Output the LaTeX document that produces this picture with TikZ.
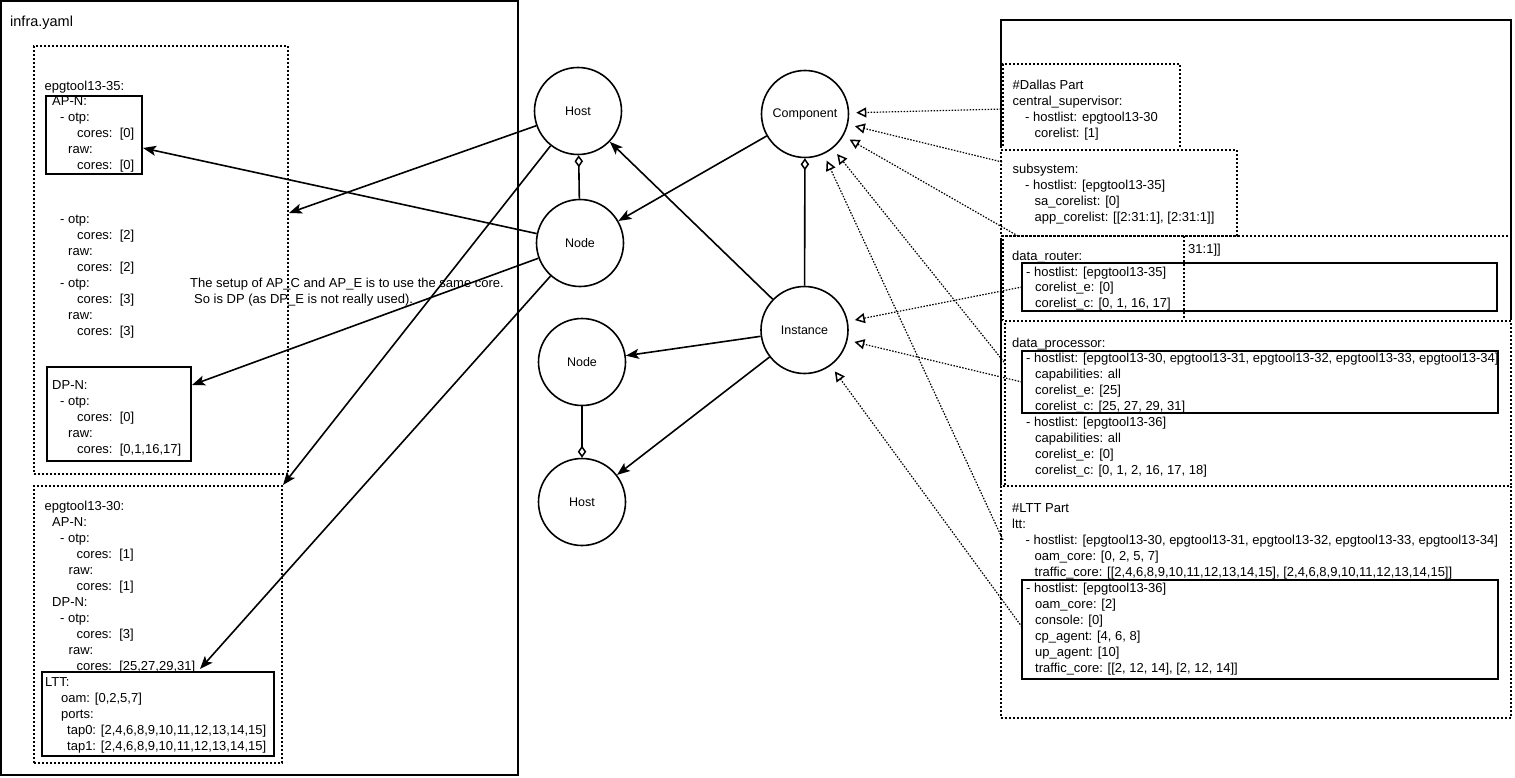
\documentclass[tikz,border=0pt]{standalone}
\usepackage{fontspec}
\setmainfont{Liberation Sans}
\usetikzlibrary{arrows.meta,fit}
\newcommand\yind[1]{\hspace*{#1pt}}
% stacked lines whose baseline is the baseline of the first line
\newcommand\ylines[1]{\begin{tabular}[t]{@{}l@{}}#1\end{tabular}}
\begin{document}
\begin{tikzpicture}[x=1pt,y=-1pt,
  txt/.style={anchor=base west, inner sep=0pt, font=\fontsize{13}{16}\selectfont},
  circ/.style={circle, draw, line width=1.6pt, minimum size=87pt, inner sep=0pt, font=\fontsize{12.5}{15}\selectfont},
  solidbox/.style={draw, line width=2pt, inner sep=0pt},
  dotbox/.style={draw, line width=2pt, dash pattern=on 2pt off 2pt, inner sep=0pt},
  whitedot/.style={dotbox, preaction={draw=white, solid, line width=3pt, fill=white}},
  link/.style={line width=1.6pt, -{Stealth[length=13pt,width=10pt,inset=3pt]}},
  agg/.style={line width=1.6pt, -{Diamond[open,length=12pt,width=8.5pt,line width=1.5pt]}},
  dep/.style={line width=1.2pt, dash pattern=on 1.5pt off 1.5pt,
    -{Triangle[open,length=10pt,width=10pt,line width=1.5pt]}, shorten >=7pt},
]
\useasboundingbox (0,0) rectangle (1515,778);

% ---------------- infra.yaml ----------------
\node[solidbox, fit={(1,1) (518,775)}] (infra) {};
\node[txt, font=\fontsize{14.5}{17}\selectfont] (infratitle) at (10,27) {infra.yaml};

\node[dotbox, fit={(34,46) (288,474)}] (box1) {};
\node[txt] (h35) at (44.5,90.5) {epgtool13-35:};
\node[solidbox, fit={(46,96) (142,174)}] (apn) {};
\node[txt] (apntxt) at (52,106) {\ylines{AP-N:\\\yind{8}- otp:\\\yind{25}cores:\ \ [0]\\\yind{16}raw:\\\yind{25}cores:\ \ [0]}};
\node[txt] (midtxt) at (60,223.5) {\ylines{- otp:\\\yind{17}cores:\ \ [2]\\\yind{8}raw:\\\yind{17}cores:\ \ [2]\\- otp:\\\yind{17}cores:\ \ [3]\\\yind{8}raw:\\\yind{17}cores:\ \ [3]}};
\node[solidbox, fit={(47,367) (191,461)}] (dpn) {};
\node[txt] (dpntxt) at (52,389.5) {\ylines{DP-N:\\\yind{8}- otp:\\\yind{25}cores:\ \ [0]\\\yind{16}raw:\\\yind{25}cores:\ \ [0,1,16,17]}};

\node[txt] (note) at (190,287.5) {\ylines{The setup of AP\_C and AP\_E is to use the same core.\\\yind{4}So is DP (as DP\_E is not really used).}};

\node[dotbox, fit={(34,486) (282,763)}] (box2) {};
\node[txt] (h30) at (44.5,510.5) {\ylines{epgtool13-30:\\\yind{7.5}AP-N:\\\yind{15.5}- otp:\\\yind{32}cores:\ \ [1]\\\yind{24}raw:\\\yind{32}cores:\ \ [1]\\\yind{7.5}DP-N:\\\yind{15.5}- otp:\\\yind{32}cores:\ \ [3]\\\yind{24}raw:\\\yind{32}cores:\ \ [25,27,29,31]}};
\node[solidbox, fit={(42,672) (274,756)}] (lttl) {};
\node[txt] (ltttxt) at (45,686) {\ylines{LTT:\\\yind{16}oam: [0,2,5,7]\\\yind{16}ports:\\\yind{22}tap0: [2,4,6,8,9,10,11,12,13,14,15]\\\yind{22}tap1: [2,4,6,8,9,10,11,12,13,14,15]}};

% ---------------- component configuration ----------------
\node[solidbox, fit={(1001,20) (1511,719)}] (cfg) {};
\node[dotbox, fit={(1003,64) (1180,150)}] (dallas) {};
\node[txt] (dallastxt) at (1012.5,89.5) {\ylines{\#Dallas Part\\central\_supervisor:\\\yind{12.5}- hostlist: epgtool13-30\\\yind{22}corelist: [1]}};
\node[whitedot, fit={(1001,150) (1237,236)}] (subsys) {};
\node[txt] (subsystxt) at (1012.5,173.5) {\ylines{subsystem:\\\yind{12.5}- hostlist: [epgtool13-35]\\\yind{22}sa\_corelist: [0]\\\yind{22}app\_corelist: [[2:31:1], [2:31:1]]}};

\node[dotbox, fit={(1003,236) (1511,321)}] (router) {};
\node[txt] (routertxt) at (1012,260) {data\_router:};
\node[solidbox, fit={(1022,263) (1497,311)}] (routerin) {};
\node[txt] (routerintxt) at (1026,276) {\ylines{- hostlist: [epgtool13-35]\\\yind{9}corelist\_e: [0]\\\yind{9}corelist\_c: [0, 1, 16, 17]}};
\draw[line width=2pt, dash pattern=on 2pt off 2pt] (1184,236) -- (1184,321);
\node[txt] (tail) at (1188,254) {31:1]]};

\node[whitedot, fit={(1004.5,321) (1511,486)}] (proc) {};
\node[txt] (proctxt) at (1012,347) {data\_processor:};
\node[solidbox, fit={(1022,351) (1498,413)}] (procin) {};
\node[txt] (procintxt) at (1026,362) {\ylines{- hostlist: [epgtool13-30, epgtool13-31, epgtool13-32, epgtool13-33, epgtool13-34]\\\yind{9}capabilities: all\\\yind{9}corelist\_e: [25]\\\yind{9}corelist\_c: [25, 27, 29, 31]\\- hostlist: [epgtool13-36]\\\yind{9}capabilities: all\\\yind{9}corelist\_e: [0]\\\yind{9}corelist\_c: [0, 1, 2, 16, 17, 18]}};

\node[whitedot, fit={(1001,486) (1511,718)}] (lttbox) {};
\node[txt] (lttboxtxt) at (1012,512.5) {\ylines{\#LTT Part\\ltt:\\\yind{13.5}- hostlist: [epgtool13-30, epgtool13-31, epgtool13-32, epgtool13-33, epgtool13-34]\\\yind{22.5}oam\_core: [0, 2, 5, 7]\\\yind{22.5}traffic\_core: [[2,4,6,8,9,10,11,12,13,14,15], [2,4,6,8,9,10,11,12,13,14,15]]}};
\node[solidbox, fit={(1022,580) (1498,679)}] (lttin) {};
\node[txt] (lttintxt) at (1026,592.5) {\ylines{- hostlist: [epgtool13-36]\\\yind{9}oam\_core: [2]\\\yind{9}console: [0]\\\yind{9}cp\_agent: [4, 6, 8]\\\yind{9}up\_agent: [10]\\\yind{9}traffic\_core: [[2, 12, 14], [2, 12, 14]]}};

% ---------------- model ----------------
\node[circ] (host1) at (578,111) {Host};
\node[circ] (node1) at (580,243) {Node};
\node[circ] (node2) at (582,362) {Node};
\node[circ] (host2) at (582,502) {Host};
\node[circ] (comp) at (805,114) {Component};
\node[circ] (inst) at (804.5,330) {Instance};

% connector end points on the yaml boxes
\coordinate (a1t) at (289,213);
\coordinate (a2t) at (143,148);
\coordinate (a3t) at (192,385);
\coordinate (a5t) at (200,669);
\coordinate (s1) at (1004,109);
\coordinate (s2) at (1002,162);
\coordinate (s3) at (1018,236);
\coordinate (s4) at (1004,362);
\coordinate (s5) at (1003,540);
\coordinate (s6) at (1022,287);
\coordinate (s7) at (1022,382);
\coordinate (s8) at (1022,627);

\draw[agg] (node1) -- (host1);
\draw[agg] (node2) -- (host2);
\draw[agg] (inst) -- (comp);

\draw[link] (host1) -- (a1t);
\draw[link] (node1) -- (a2t);
\draw[link] (node1) -- (a3t);
\draw[link] (host1) -- (box2.north east);
\draw[link] (node1) -- (a5t);
\draw[link] (comp) -- (node1);
\draw[link] (inst) -- (host1);
\draw[link] (inst) -- (node2);
\draw[link] (inst) -- (host2);

\draw[dep] (s1) -- (comp);
\draw[dep] (s2) -- (comp);
\draw[dep] (s3) -- (comp);
\draw[dep] (s4) -- (comp);
\draw[dep] (s5) -- (comp);
\draw[dep] (s6) -- (inst);
\draw[dep] (s7) -- (inst);
\draw[dep] (s8) -- (inst);
\end{tikzpicture}
\end{document}
